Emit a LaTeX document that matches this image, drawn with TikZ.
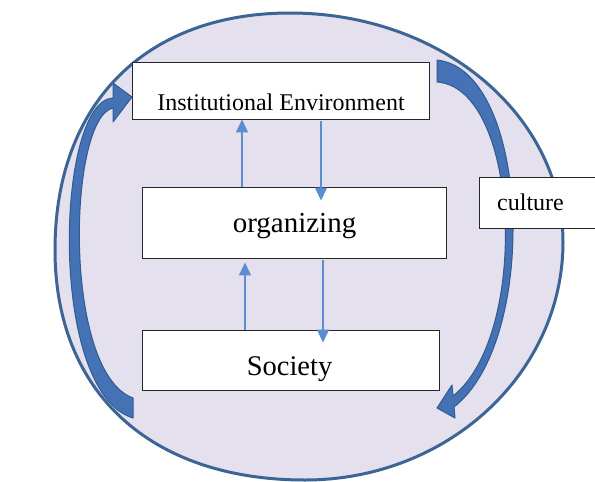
\documentclass[tikz,border=0pt]{standalone}
\usepackage{fontspec}
\setmainfont{Liberation Serif}
\usetikzlibrary{arrows.meta}
\definecolor{ellfill}{HTML}{E4E0EE}
\definecolor{elldraw}{HTML}{3C6595}
\definecolor{arrowfill}{HTML}{4472B4}
\definecolor{arrowdraw}{HTML}{2F5C94}
\definecolor{thinblue}{HTML}{5B8DD0}
\begin{document}
\begin{tikzpicture}[x=1pt,y=-1pt,
  box/.style={draw=black!85, line width=0.9pt, fill=white, inner sep=0pt},
  thinarrow/.style={draw=thinblue, line width=1.4pt, -{Triangle[length=13pt,width=12pt,fill=thinblue]}},
  bigarrow/.style={fill=arrowfill, draw=arrowdraw, line width=1pt, line join=round},
  lbl/.style={inner sep=0pt, anchor=base}]
\useasboundingbox (0,0) rectangle (595,482);
% outer ellipse-like shape
\draw[fill=ellfill, draw=elldraw, line width=3pt]
  (290,13) .. controls (441,13) and (563,115) .. (563,242)
  .. controls (563,373) and (448,480) .. (305,480)
  .. controls (151,480) and (55,393) .. (55,250)
  .. controls (55,103) and (146,13) .. (290,13) -- cycle;
% boxes
\node[box, minimum width=297pt, minimum height=57pt] (ie) at (280.5,90.5) {};
\node[box, minimum width=304pt, minimum height=71pt] (org) at (294,222.5) {};
\node[box, minimum width=297pt, minimum height=60pt] (soc) at (290.5,360) {};
% texts
\node[lbl, font=\fontsize{24}{28}\selectfont] (ietxt) at (281,110) {Institutional Environment};
\node[lbl, font=\fontsize{29}{34}\selectfont] (orgtxt) at (294.5,232) {organizing};
\node[lbl, font=\fontsize{28.5}{34}\selectfont] (soctxt) at (289.5,375) {Society};
% thin arrows
\coordinate (xa) at (242,0);
\coordinate (xb) at (321,0);
\coordinate (xc) at (245,0);
\coordinate (xd) at (323,0);
\draw[thinarrow] (org.north -| xa) -- (ie.south -| xa);
\draw[thinarrow, shorten <=2pt, shorten >=-14pt] (ie.south -| xb) -- (org.north -| xb);
\draw[thinarrow, shorten >=4pt] (soc.north -| xc) -- (org.south -| xc);
\draw[thinarrow, shorten <=2pt, shorten >=-13pt] (org.south -| xd) -- (soc.north -| xd);
% big curved arrows
\draw[bigarrow] (133,418) .. controls (47,392) and (56,100) .. (113,98)
  -- (113,83) -- (132,97) -- (113,122) -- (113,108)
  .. controls (68,118) and (62,372) .. (133,398) -- cycle;
\draw[bigarrow] (437,60) .. controls (530,70) and (540,340) .. (454,407)
  -- (455,418) -- (437,408) -- (452,385) -- (453,396)
  .. controls (530,335) and (520,88) .. (437,82) -- cycle;
% culture box
\node[box, minimum width=120pt, minimum height=51pt, anchor=north west] (cul) at (479,177) {};
\node[lbl, anchor=base west, font=\fontsize{24}{28}\selectfont] (cultxt) at (497,210) {culture};
\end{tikzpicture}
\end{document}
